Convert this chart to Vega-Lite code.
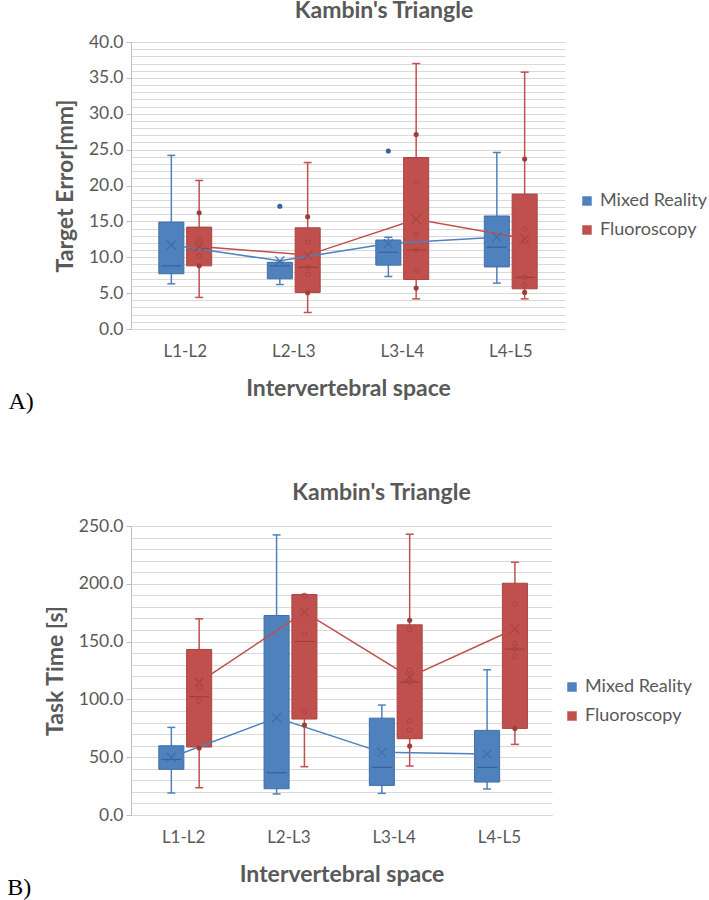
{
  "$schema": "https://vega.github.io/schema/vega-lite/v6.json",
  "padding": {"left": 7, "top": 0, "right": 0, "bottom": 0},
  "background": "white",
  "config": {
    "font": "Lato",
    "view": {"stroke": null},
    "title": {"font": "Lato", "fontSize": 23, "fontWeight": "bold", "color": "#595959"},
    "axisY": {"labelOverlap": false, "labelFlush": false, "grid": true, "gridColor": "#D9D9D9", "gridWidth": 1, "tickColor": "#BFBFBF", "tickSize": 5,
      "domainColor": "#BFBFBF", "labelPadding": 3, "labelFontSize": 17.5, "labelColor": "#595959",
      "titleFontSize": 23, "titleFontWeight": "bold", "titleColor": "#595959", "titlePadding": 11},
    "axisX": {"labelAngle": 0, "ticks": false, "grid": false, "domainColor": "#D9D9D9", "labelPadding": 14, "titlePadding": 18, "labelFontSize": 17, "labelColor": "#595959", "titleFontSize": 23, "titleFontWeight": "bold", "titleColor": "#595959"}
  },
  "datasets": {
    "errBoxes": [
      {"space": "L1-L2", "method": "Mixed Reality", "lo": 6.3, "q1": 7.7, "median": 8.8, "q3": 14.9, "hi": 24.2, "mean": 11.7},
      {"space": "L1-L2", "method": "Fluoroscopy", "lo": 4.4, "q1": 8.8, "median": 11.2, "q3": 14.2, "hi": 20.7, "mean": 11.5},
      {"space": "L2-L3", "method": "Mixed Reality", "lo": 6.2, "q1": 7.0, "median": 8.8, "q3": 9.3, "hi": 9.3, "mean": 9.5},
      {"space": "L2-L3", "method": "Fluoroscopy", "lo": 2.3, "q1": 5.1, "median": 8.6, "q3": 14.1, "hi": 23.2, "mean": 10.3},
      {"space": "L3-L4", "method": "Mixed Reality", "lo": 7.3, "q1": 8.9, "median": 10.7, "q3": 12.4, "hi": 12.8, "mean": 11.9},
      {"space": "L3-L4", "method": "Fluoroscopy", "lo": 4.2, "q1": 6.9, "median": 11.0, "q3": 23.9, "hi": 37.0, "mean": 15.3},
      {"space": "L4-L5", "method": "Mixed Reality", "lo": 6.4, "q1": 8.65, "median": 11.4, "q3": 15.75, "hi": 24.6, "mean": 12.8},
      {"space": "L4-L5", "method": "Fluoroscopy", "lo": 4.2, "q1": 5.6, "median": 7.2, "q3": 18.8, "hi": 35.8, "mean": 12.6}
    ],
    "errPoints": [
      {"space": "L1-L2", "method": "Fluoroscopy", "value": 16.2, "zone": "tail"},
      {"space": "L1-L2", "method": "Fluoroscopy", "value": 12.4, "zone": "box"},
      {"space": "L1-L2", "method": "Fluoroscopy", "value": 10.2, "zone": "box"},
      {"space": "L1-L2", "method": "Fluoroscopy", "value": 8.8, "zone": "tail"},
      {"space": "L2-L3", "method": "Mixed Reality", "value": 17.1, "zone": "outlier"},
      {"space": "L2-L3", "method": "Fluoroscopy", "value": 15.65, "zone": "tail"},
      {"space": "L2-L3", "method": "Fluoroscopy", "value": 12.1, "zone": "box"},
      {"space": "L2-L3", "method": "Fluoroscopy", "value": 8.6, "zone": "box"},
      {"space": "L2-L3", "method": "Fluoroscopy", "value": 7.6, "zone": "box"},
      {"space": "L2-L3", "method": "Fluoroscopy", "value": 5.06, "zone": "tail"},
      {"space": "L3-L4", "method": "Mixed Reality", "value": 24.8, "zone": "outlier"},
      {"space": "L3-L4", "method": "Fluoroscopy", "value": 27.1, "zone": "tail"},
      {"space": "L3-L4", "method": "Fluoroscopy", "value": 20.5, "zone": "box"},
      {"space": "L3-L4", "method": "Fluoroscopy", "value": 13.1, "zone": "box"},
      {"space": "L3-L4", "method": "Fluoroscopy", "value": 11.0, "zone": "box"},
      {"space": "L3-L4", "method": "Fluoroscopy", "value": 8.2, "zone": "box"},
      {"space": "L3-L4", "method": "Fluoroscopy", "value": 5.7, "zone": "tail"},
      {"space": "L4-L5", "method": "Fluoroscopy", "value": 23.7, "zone": "tail"},
      {"space": "L4-L5", "method": "Fluoroscopy", "value": 13.9, "zone": "box"},
      {"space": "L4-L5", "method": "Fluoroscopy", "value": 12.2, "zone": "box"},
      {"space": "L4-L5", "method": "Fluoroscopy", "value": 7.2, "zone": "box"},
      {"space": "L4-L5", "method": "Fluoroscopy", "value": 6.1, "zone": "box"},
      {"space": "L4-L5", "method": "Fluoroscopy", "value": 5.1, "zone": "tail"}
    ],
    "timeBoxes": [
      {"space": "L1-L2", "method": "Mixed Reality", "lo": 19.0, "q1": 39.5, "median": 48.0, "q3": 59.9, "hi": 75.8, "mean": 49.9},
      {"space": "L1-L2", "method": "Fluoroscopy", "lo": 23.6, "q1": 58.8, "median": 102.3, "q3": 143.2, "hi": 169.7, "mean": 115.0},
      {"space": "L2-L3", "method": "Mixed Reality", "lo": 18.2, "q1": 22.7, "median": 36.6, "q3": 172.6, "hi": 242.3, "mean": 84.1},
      {"space": "L2-L3", "method": "Fluoroscopy", "lo": 41.8, "q1": 83.0, "median": 150.1, "q3": 190.7, "hi": 190.7, "mean": 175.5},
      {"space": "L3-L4", "method": "Mixed Reality", "lo": 18.7, "q1": 25.6, "median": 41.2, "q3": 83.8, "hi": 95.1, "mean": 54.2},
      {"space": "L3-L4", "method": "Fluoroscopy", "lo": 42.4, "q1": 66.0, "median": 115.0, "q3": 164.5, "hi": 242.9, "mean": 119.5},
      {"space": "L4-L5", "method": "Mixed Reality", "lo": 22.5, "q1": 28.5, "median": 41.2, "q3": 73.2, "hi": 125.6, "mean": 52.7},
      {"space": "L4-L5", "method": "Fluoroscopy", "lo": 61.1, "q1": 74.9, "median": 143.5, "q3": 200.5, "hi": 218.7, "mean": 161.0}
    ],
    "timePoints": [
      {"space": "L1-L2", "method": "Fluoroscopy", "value": 110.0, "zone": "box"},
      {"space": "L1-L2", "method": "Fluoroscopy", "value": 98.8, "zone": "box"},
      {"space": "L1-L2", "method": "Fluoroscopy", "value": 57.9, "zone": "tail"},
      {"space": "L2-L3", "method": "Fluoroscopy", "value": 189.8, "zone": "box"},
      {"space": "L2-L3", "method": "Fluoroscopy", "value": 156.4, "zone": "box"},
      {"space": "L2-L3", "method": "Fluoroscopy", "value": 89.0, "zone": "box"},
      {"space": "L2-L3", "method": "Fluoroscopy", "value": 77.8, "zone": "tail"},
      {"space": "L3-L4", "method": "Fluoroscopy", "value": 168.5, "zone": "tail"},
      {"space": "L3-L4", "method": "Fluoroscopy", "value": 160.8, "zone": "box"},
      {"space": "L3-L4", "method": "Fluoroscopy", "value": 125.3, "zone": "box"},
      {"space": "L3-L4", "method": "Fluoroscopy", "value": 115.0, "zone": "box"},
      {"space": "L3-L4", "method": "Fluoroscopy", "value": 81.2, "zone": "box"},
      {"space": "L3-L4", "method": "Fluoroscopy", "value": 73.5, "zone": "box"},
      {"space": "L3-L4", "method": "Fluoroscopy", "value": 59.6, "zone": "tail"},
      {"space": "L4-L5", "method": "Fluoroscopy", "value": 182.4, "zone": "box"},
      {"space": "L4-L5", "method": "Fluoroscopy", "value": 148.4, "zone": "box"},
      {"space": "L4-L5", "method": "Fluoroscopy", "value": 143.5, "zone": "box"},
      {"space": "L4-L5", "method": "Fluoroscopy", "value": 137.2, "zone": "box"},
      {"space": "L4-L5", "method": "Fluoroscopy", "value": 74.9, "zone": "tail"}
    ]
  },
  "spacing": 68,
  "resolve": {
    "scale": {"color": "independent", "fill": "independent", "stroke": "independent"},
    "legend": {"color": "independent"}
  },
  "vconcat": [
    {
      "title": {"text": "A)", "orient": "bottom", "anchor": "start", "frame": "bounds", "font": "Liberation Serif", "fontSize": 24, "fontWeight": "normal", "color": "#000000", "dx": -46, "offset": -10},
      "vconcat": [
        {
          "width": 434,
          "height": 287,
          "title": {"text": "Kambin's Triangle", "dx": 36, "offset": 10},
          "encoding": {
            "x": {"field": "space", "type": "nominal", "sort": ["L1-L2", "L2-L3", "L3-L4", "L4-L5"], "scale": {"paddingInner": 0, "paddingOuter": 0}, "title": "Intervertebral space"},
            "xOffset": {"field": "method", "type": "nominal", "sort": ["Mixed Reality", "Fluoroscopy"], "scale": {"paddingInner": 0.1, "paddingOuter": 1.5}}
          },
          "layer": [
            {
              "data": {"name": "errBoxes"},
              "mark": {"type": "rule", "strokeWidth": 1.5},
              "encoding": {
                "y": {"field": "lo", "type": "quantitative", "title": "Target Error[mm]", "scale": {"domain": [0, 40], "nice": false},
                  "axis": {"values": [0,1,2,3,4,5,6,7,8,9,10,11,12,13,14,15,16,17,18,19,20,21,22,23,24,25,26,27,28,29,30,31,32,33,34,35,36,37,38,39,40],
                    "labelExpr": "datum.value % 5 === 0 ? format(datum.value, '.1f') : ''",
                    "tickOpacity": {"condition": {"test": "datum.value % 5 === 0", "value": 1}, "value": 0}}},
                "y2": {"field": "hi"},
                "color": {"field": "method", "type": "nominal", "scale": {"domain": ["Mixed Reality", "Fluoroscopy"], "range": ["#4F81BD", "#C0504D"]}}
              }
            },
            {
              "data": {"name": "errBoxes"},
              "mark": {"type": "tick", "thickness": 1.5, "size": 8, "opacity": 1},
              "encoding": {
                "y": {"field": "lo", "type": "quantitative", "title": "Target Error[mm]",
                  "axis": {"values": [0,1,2,3,4,5,6,7,8,9,10,11,12,13,14,15,16,17,18,19,20,21,22,23,24,25,26,27,28,29,30,31,32,33,34,35,36,37,38,39,40],
                    "labelExpr": "datum.value % 5 === 0 ? format(datum.value, '.1f') : ''",
                    "tickOpacity": {"condition": {"test": "datum.value % 5 === 0", "value": 1}, "value": 0}}},
                "color": {"field": "method", "type": "nominal"}
              }
            },
            {
              "data": {"name": "errBoxes"},
              "mark": {"type": "tick", "thickness": 1.5, "size": 8, "opacity": 1},
              "encoding": {
                "y": {"field": "hi", "type": "quantitative", "title": "Target Error[mm]",
                  "axis": {"values": [0,1,2,3,4,5,6,7,8,9,10,11,12,13,14,15,16,17,18,19,20,21,22,23,24,25,26,27,28,29,30,31,32,33,34,35,36,37,38,39,40],
                    "labelExpr": "datum.value % 5 === 0 ? format(datum.value, '.1f') : ''",
                    "tickOpacity": {"condition": {"test": "datum.value % 5 === 0", "value": 1}, "value": 0}}},
                "color": {"field": "method", "type": "nominal"}
              }
            },
            {
              "data": {"name": "errBoxes"},
              "mark": {"type": "bar", "strokeWidth": 1, "opacity": 1},
              "encoding": {
                "y": {"field": "q1", "type": "quantitative", "title": "Target Error[mm]",
                  "axis": {"values": [0,1,2,3,4,5,6,7,8,9,10,11,12,13,14,15,16,17,18,19,20,21,22,23,24,25,26,27,28,29,30,31,32,33,34,35,36,37,38,39,40],
                    "labelExpr": "datum.value % 5 === 0 ? format(datum.value, '.1f') : ''",
                    "tickOpacity": {"condition": {"test": "datum.value % 5 === 0", "value": 1}, "value": 0}}},
                "y2": {"field": "q3"},
                "color": {"field": "method", "type": "nominal",
                  "legend": {"orient": "none", "legendX": 447, "legendY": 150, "title": null, "symbolType": "square", "symbolSize": 90, "symbolStrokeWidth": 0, "symbolOpacity": 1, "labelFontSize": 18, "labelColor": "#595959", "labelFont": "Lato", "rowPadding": 11, "labelOffset": 4}},
                "stroke": {"field": "method", "type": "nominal", "scale": {"domain": ["Mixed Reality", "Fluoroscopy"], "range": ["#3F6FA8", "#A94441"]}, "legend": null}
              }
            },
            {
              "data": {"name": "errBoxes"},
              "mark": {"type": "tick", "thickness": 1.2, "size": 20, "opacity": 1},
              "encoding": {
                "y": {"field": "median", "type": "quantitative", "title": "Target Error[mm]",
                  "axis": {"values": [0,1,2,3,4,5,6,7,8,9,10,11,12,13,14,15,16,17,18,19,20,21,22,23,24,25,26,27,28,29,30,31,32,33,34,35,36,37,38,39,40],
                    "labelExpr": "datum.value % 5 === 0 ? format(datum.value, '.1f') : ''",
                    "tickOpacity": {"condition": {"test": "datum.value % 5 === 0", "value": 1}, "value": 0}}},
                "fill": {"field": "method", "type": "nominal", "scale": {"domain": ["Mixed Reality", "Fluoroscopy"], "range": ["#34629A", "#9E3E3B"]}, "legend": null}
              }
            },
            {
              "data": {"name": "errBoxes"},
              "mark": {"type": "line", "strokeWidth": 1.5},
              "encoding": {
                "y": {"field": "mean", "type": "quantitative", "title": "Target Error[mm]",
                  "axis": {"values": [0,1,2,3,4,5,6,7,8,9,10,11,12,13,14,15,16,17,18,19,20,21,22,23,24,25,26,27,28,29,30,31,32,33,34,35,36,37,38,39,40],
                    "labelExpr": "datum.value % 5 === 0 ? format(datum.value, '.1f') : ''",
                    "tickOpacity": {"condition": {"test": "datum.value % 5 === 0", "value": 1}, "value": 0}}},
                "color": {"field": "method", "type": "nominal"}
              }
            },
            {
              "data": {"name": "errBoxes"},
              "mark": {"type": "point", "shape": "M-1,-1L1,1M-1,1L1,-1", "filled": false, "size": 81, "strokeWidth": 1.3, "opacity": 1},
              "encoding": {
                "y": {"field": "mean", "type": "quantitative", "title": "Target Error[mm]",
                  "axis": {"values": [0,1,2,3,4,5,6,7,8,9,10,11,12,13,14,15,16,17,18,19,20,21,22,23,24,25,26,27,28,29,30,31,32,33,34,35,36,37,38,39,40],
                    "labelExpr": "datum.value % 5 === 0 ? format(datum.value, '.1f') : ''",
                    "tickOpacity": {"condition": {"test": "datum.value % 5 === 0", "value": 1}, "value": 0}}},
                "stroke": {"field": "method", "type": "nominal", "legend": null}
              }
            },
            {
              "data": {"name": "errPoints"},
              "transform": [{"filter": "datum.zone === 'box'"}],
              "mark": {"type": "point", "shape": "circle", "filled": false, "size": 22, "strokeWidth": 1, "opacity": 1},
              "encoding": {
                "y": {"field": "value", "type": "quantitative", "title": "Target Error[mm]",
                  "axis": {"values": [0,1,2,3,4,5,6,7,8,9,10,11,12,13,14,15,16,17,18,19,20,21,22,23,24,25,26,27,28,29,30,31,32,33,34,35,36,37,38,39,40],
                    "labelExpr": "datum.value % 5 === 0 ? format(datum.value, '.1f') : ''",
                    "tickOpacity": {"condition": {"test": "datum.value % 5 === 0", "value": 1}, "value": 0}}},
                "stroke": {"field": "method", "type": "nominal", "legend": null}
              }
            },
            {
              "data": {"name": "errPoints"},
              "transform": [{"filter": "datum.zone !== 'box'"}],
              "mark": {"type": "point", "shape": "circle", "filled": true, "size": 26, "opacity": 1},
              "encoding": {
                "y": {"field": "value", "type": "quantitative", "title": "Target Error[mm]",
                  "axis": {"values": [0,1,2,3,4,5,6,7,8,9,10,11,12,13,14,15,16,17,18,19,20,21,22,23,24,25,26,27,28,29,30,31,32,33,34,35,36,37,38,39,40],
                    "labelExpr": "datum.value % 5 === 0 ? format(datum.value, '.1f') : ''",
                    "tickOpacity": {"condition": {"test": "datum.value % 5 === 0", "value": 1}, "value": 0}}},
                "fill": {"field": "method", "type": "nominal", "legend": null}
              }
            }
          ]
        }
      ]
    },
    {
      "title": {"text": "B)", "orient": "bottom", "anchor": "start", "frame": "bounds", "font": "Liberation Serif", "fontSize": 24, "fontWeight": "normal", "color": "#000000", "dx": -37, "offset": -10},
      "vconcat": [
        {
          "width": 421,
          "height": 289,
          "title": {"text": "Kambin's Triangle", "dx": 40, "offset": 12},
          "encoding": {
            "x": {"field": "space", "type": "nominal", "sort": ["L1-L2", "L2-L3", "L3-L4", "L4-L5"], "scale": {"paddingInner": 0, "paddingOuter": 0}, "title": "Intervertebral space"},
            "xOffset": {"field": "method", "type": "nominal", "sort": ["Mixed Reality", "Fluoroscopy"], "scale": {"paddingInner": 0.1, "paddingOuter": 1.45}}
          },
          "layer": [
            {
              "data": {"name": "timeBoxes"},
              "mark": {"type": "rule", "strokeWidth": 1.5},
              "encoding": {
                "y": {"field": "lo", "type": "quantitative", "title": "Task Time [s]", "scale": {"domain": [0, 250], "nice": false},
                  "axis": {"values": [0,10,20,30,40,50,60,70,80,90,100,110,120,130,140,150,160,170,180,190,200,210,220,230,240,250],
                    "labelExpr": "datum.value % 50 === 0 ? format(datum.value, '.1f') : ''",
                    "tickOpacity": {"condition": {"test": "datum.value % 50 === 0", "value": 1}, "value": 0}}},
                "y2": {"field": "hi"},
                "color": {"field": "method", "type": "nominal", "scale": {"domain": ["Mixed Reality", "Fluoroscopy"], "range": ["#4F81BD", "#C0504D"]}}
              }
            },
            {
              "data": {"name": "timeBoxes"},
              "mark": {"type": "tick", "thickness": 1.5, "size": 8, "opacity": 1},
              "encoding": {
                "y": {"field": "lo", "type": "quantitative", "title": "Task Time [s]",
                  "axis": {"values": [0,10,20,30,40,50,60,70,80,90,100,110,120,130,140,150,160,170,180,190,200,210,220,230,240,250],
                    "labelExpr": "datum.value % 50 === 0 ? format(datum.value, '.1f') : ''",
                    "tickOpacity": {"condition": {"test": "datum.value % 50 === 0", "value": 1}, "value": 0}}},
                "color": {"field": "method", "type": "nominal"}
              }
            },
            {
              "data": {"name": "timeBoxes"},
              "mark": {"type": "tick", "thickness": 1.5, "size": 8, "opacity": 1},
              "encoding": {
                "y": {"field": "hi", "type": "quantitative", "title": "Task Time [s]",
                  "axis": {"values": [0,10,20,30,40,50,60,70,80,90,100,110,120,130,140,150,160,170,180,190,200,210,220,230,240,250],
                    "labelExpr": "datum.value % 50 === 0 ? format(datum.value, '.1f') : ''",
                    "tickOpacity": {"condition": {"test": "datum.value % 50 === 0", "value": 1}, "value": 0}}},
                "color": {"field": "method", "type": "nominal"}
              }
            },
            {
              "data": {"name": "timeBoxes"},
              "mark": {"type": "bar", "strokeWidth": 1, "opacity": 1},
              "encoding": {
                "y": {"field": "q1", "type": "quantitative", "title": "Task Time [s]",
                  "axis": {"values": [0,10,20,30,40,50,60,70,80,90,100,110,120,130,140,150,160,170,180,190,200,210,220,230,240,250],
                    "labelExpr": "datum.value % 50 === 0 ? format(datum.value, '.1f') : ''",
                    "tickOpacity": {"condition": {"test": "datum.value % 50 === 0", "value": 1}, "value": 0}}},
                "y2": {"field": "q3"},
                "color": {"field": "method", "type": "nominal",
                  "legend": {"orient": "none", "legendX": 432, "legendY": 152, "title": null, "symbolType": "square", "symbolSize": 90, "symbolStrokeWidth": 0, "symbolOpacity": 1, "labelFontSize": 18, "labelColor": "#595959", "labelFont": "Lato", "rowPadding": 11, "labelOffset": 4}},
                "stroke": {"field": "method", "type": "nominal", "scale": {"domain": ["Mixed Reality", "Fluoroscopy"], "range": ["#3F6FA8", "#A94441"]}, "legend": null}
              }
            },
            {
              "data": {"name": "timeBoxes"},
              "mark": {"type": "tick", "thickness": 1.2, "size": 20, "opacity": 1},
              "encoding": {
                "y": {"field": "median", "type": "quantitative", "title": "Task Time [s]",
                  "axis": {"values": [0,10,20,30,40,50,60,70,80,90,100,110,120,130,140,150,160,170,180,190,200,210,220,230,240,250],
                    "labelExpr": "datum.value % 50 === 0 ? format(datum.value, '.1f') : ''",
                    "tickOpacity": {"condition": {"test": "datum.value % 50 === 0", "value": 1}, "value": 0}}},
                "fill": {"field": "method", "type": "nominal", "scale": {"domain": ["Mixed Reality", "Fluoroscopy"], "range": ["#34629A", "#9E3E3B"]}, "legend": null}
              }
            },
            {
              "data": {"name": "timeBoxes"},
              "mark": {"type": "line", "strokeWidth": 1.5},
              "encoding": {
                "y": {"field": "mean", "type": "quantitative", "title": "Task Time [s]",
                  "axis": {"values": [0,10,20,30,40,50,60,70,80,90,100,110,120,130,140,150,160,170,180,190,200,210,220,230,240,250],
                    "labelExpr": "datum.value % 50 === 0 ? format(datum.value, '.1f') : ''",
                    "tickOpacity": {"condition": {"test": "datum.value % 50 === 0", "value": 1}, "value": 0}}},
                "color": {"field": "method", "type": "nominal"}
              }
            },
            {
              "data": {"name": "timeBoxes"},
              "mark": {"type": "point", "shape": "M-1,-1L1,1M-1,1L1,-1", "filled": false, "size": 81, "strokeWidth": 1.3, "opacity": 1},
              "encoding": {
                "y": {"field": "mean", "type": "quantitative", "title": "Task Time [s]",
                  "axis": {"values": [0,10,20,30,40,50,60,70,80,90,100,110,120,130,140,150,160,170,180,190,200,210,220,230,240,250],
                    "labelExpr": "datum.value % 50 === 0 ? format(datum.value, '.1f') : ''",
                    "tickOpacity": {"condition": {"test": "datum.value % 50 === 0", "value": 1}, "value": 0}}},
                "stroke": {"field": "method", "type": "nominal", "legend": null}
              }
            },
            {
              "data": {"name": "timePoints"},
              "transform": [{"filter": "datum.zone === 'box'"}],
              "mark": {"type": "point", "shape": "circle", "filled": false, "size": 22, "strokeWidth": 1, "opacity": 1},
              "encoding": {
                "y": {"field": "value", "type": "quantitative", "title": "Task Time [s]",
                  "axis": {"values": [0,10,20,30,40,50,60,70,80,90,100,110,120,130,140,150,160,170,180,190,200,210,220,230,240,250],
                    "labelExpr": "datum.value % 50 === 0 ? format(datum.value, '.1f') : ''",
                    "tickOpacity": {"condition": {"test": "datum.value % 50 === 0", "value": 1}, "value": 0}}},
                "stroke": {"field": "method", "type": "nominal", "legend": null}
              }
            },
            {
              "data": {"name": "timePoints"},
              "transform": [{"filter": "datum.zone !== 'box'"}],
              "mark": {"type": "point", "shape": "circle", "filled": true, "size": 26, "opacity": 1},
              "encoding": {
                "y": {"field": "value", "type": "quantitative", "title": "Task Time [s]",
                  "axis": {"values": [0,10,20,30,40,50,60,70,80,90,100,110,120,130,140,150,160,170,180,190,200,210,220,230,240,250],
                    "labelExpr": "datum.value % 50 === 0 ? format(datum.value, '.1f') : ''",
                    "tickOpacity": {"condition": {"test": "datum.value % 50 === 0", "value": 1}, "value": 0}}},
                "fill": {"field": "method", "type": "nominal", "legend": null}
              }
            }
          ]
        }
      ]
    }
  ]
}
